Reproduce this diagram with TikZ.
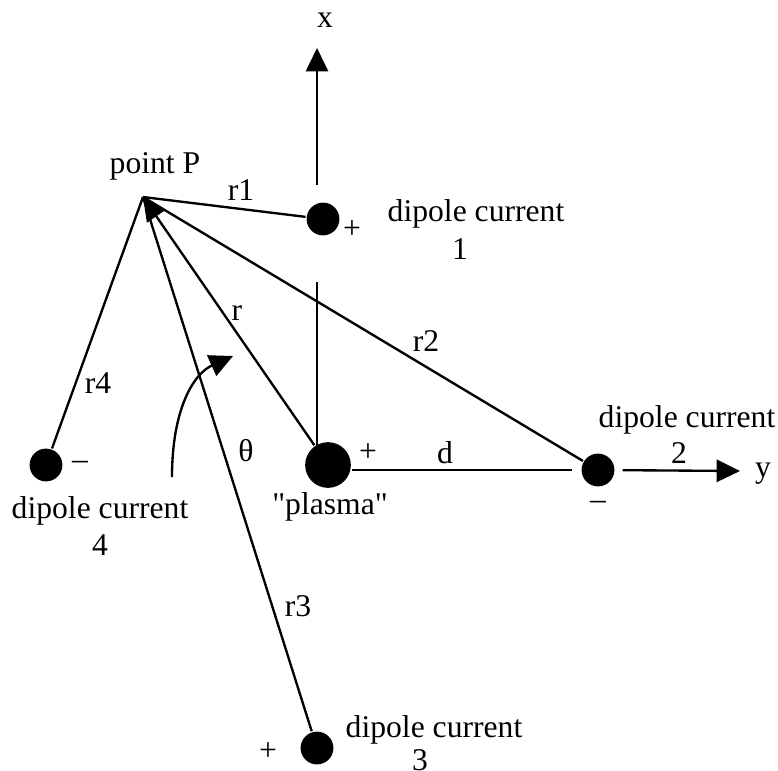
\documentclass[tikz,border=0pt]{standalone}
\usepackage{fontspec}
\setmainfont{Liberation Serif}[Ligatures=TeXOff]
\usetikzlibrary{arrows.meta}
\begin{document}
\begin{tikzpicture}[x=0.03cm,y=-0.03cm, line width=2pt,
  dot/.style={circle,fill=black,inner sep=0pt,minimum size=28pt},
  bigdot/.style={circle,fill=black,inner sep=0pt,minimum size=39pt},
  lbl/.style={inner sep=0pt,font=\fontsize{27}{31}\selectfont},
  tipped/.style={-{Triangle[length=20pt,width=19pt]}}]
\useasboundingbox (0,0) rectangle (778,770);
% points
\node[dot] (D1) at (323,219) {};
\node[bigdot] (PL) at (328,465) {};
\node[dot] (D2) at (598,470) {};
\node[dot] (D3) at (317,748) {};
\node[dot] (D4) at (46,465) {};
\coordinate (P) at (143,197);
\coordinate (xb) at (317,185);
\coordinate (xt) at (317,48);
\coordinate (vt) at (317,282);
\coordinate (ye) at (740,471);
\coordinate (cs) at (172,477);
\coordinate (ce) at (233,356);
% axes
\draw[tipped] (xb) -- (xt);
\draw (vt) -- (vt |- PL);
\draw[shorten >=7pt] (PL.east |- D2) -- (D2);
\draw[tipped, shorten <=6pt] (D2) -- (ye);
% vectors
\draw (D1) -- (P);
\draw[tipped] (PL) -- (P);
\draw (D2) -- (P);
\draw (D3) -- (P);
\draw (D4) -- (P);
\draw[tipped] (cs) .. controls (172,410) and (193,374) .. (ce);
% labels
\node[lbl] (lx) at (325,20) {x};
\node[lbl] (lP) at (155,166) {point P};
\node[lbl] (lr1) at (241,190) {r1};
\node[lbl] (p1) at (352,230) {+};
\node[lbl] (t1) at (476,214) {dipole current};
\node[lbl] (n1) at (460,249) {1};
\node[lbl] (lr) at (237,313) {r};
\node[lbl] (lr2) at (426,341) {r2};
\node[lbl] (lr4) at (98,383) {r4};
\node[lbl] (lth) at (246,451) {θ};
\node[lbl] (m4) at (80,465) {–};
\node[lbl] (t4) at (100,511) {dipole current};
\node[lbl] (n4) at (100,545) {4};
\node[lbl] (lpl) at (330,507) {"plasma"};
\node[lbl] (pp) at (368,453) {+};
\node[lbl] (ld) at (445,453) {d};
\node[lbl] (t2) at (687,420) {dipole current};
\node[lbl] (n2) at (679,453) {2};
\node[lbl] (ly) at (763,474) {y};
\node[lbl] (m2) at (598,505) {–};
\node[lbl] (lr3) at (298,606) {r3};
\node[lbl] (p3) at (268,752) {+};
\node[lbl] (t3) at (434,730) {dipole current};
\node[lbl] (n3) at (420,760) {3};
\end{tikzpicture}
\end{document}
